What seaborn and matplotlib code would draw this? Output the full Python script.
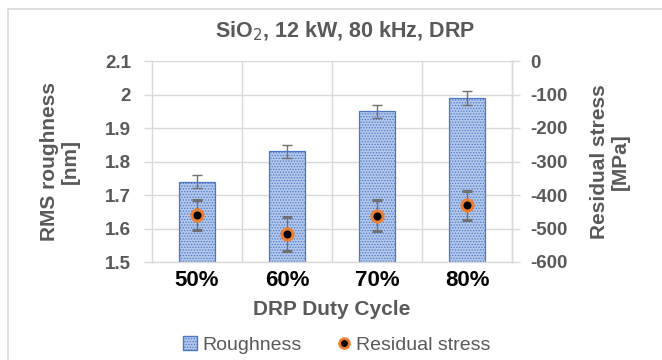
import matplotlib
matplotlib.use("Agg")
import matplotlib.pyplot as plt
from matplotlib.lines import Line2D
from matplotlib.patches import Patch
import seaborn as sns
import pandas as pd

# Data
duty_cycles = ["50%", "60%", "70%", "80%"]
roughness = [1.74, 1.83, 1.95, 1.99]
roughness_err = [0.02, 0.02, 0.02, 0.02]
residual_stress = [-460, -516, -462, -431]
residual_stress_err = [45, 50, 46, 43]
left_ticks = [1.5, 1.6, 1.7, 1.8, 1.9, 2.0, 2.1]
left_tick_labels = ["1.5", "1.6", "1.7", "1.8", "1.9", "2", "2.1"]
right_ticks = [-600, -500, -400, -300, -200, -100, 0]

df = pd.DataFrame({"duty": duty_cycles, "rough": roughness})

sns.set_theme(style="white")
plt.rcParams["font.family"] = ["Liberation Sans", "DejaVu Sans"]
plt.rcParams["hatch.color"] = "#86a3dc"
plt.rcParams["hatch.linewidth"] = 0.6

GRAY = "#595959"
GRID = "#d9d9d9"
BAR_FACE = "#b3c7ea"
BAR_EDGE = "#4a78c8"
ORANGE = "#ED7D31"
ERR = "#707070"

fig = plt.figure(figsize=(6.62, 3.60), dpi=100)
W, H = 662, 360
ax = fig.add_axes([152 / W, 1 - 262 / H, 360 / W, 201 / H])

sns.barplot(data=df, x="duty", y="rough", ax=ax, width=0.4,
            color=BAR_FACE, edgecolor=BAR_EDGE, linewidth=0.9, zorder=2)
for p in ax.patches:
    p.set_hatch("......")
    p.set_facecolor(BAR_FACE)

xs = list(range(len(duty_cycles)))
ax.errorbar(xs, roughness, yerr=roughness_err, fmt="none", ecolor=ERR,
            elinewidth=1.0, capsize=3.5, capthick=1.0, zorder=3)

ax.set_ylim(1.5, 2.1)
ax.set_xlim(-0.5, 3.5)
ax.set_yticks(left_ticks)
ax.set_yticklabels(left_tick_labels)
ax.set_xticks(xs)
ax.set_xticklabels(duty_cycles)
ax.set_xticks([0.5, 1.5, 2.5], minor=True)
ax.grid(True, axis="y", color=GRID, linewidth=1.0, zorder=0)
ax.grid(True, axis="x", which="minor", color=GRID, linewidth=1.0, zorder=0)
ax.grid(False, axis="x", which="major")
ax.set_axisbelow(True)
ax.spines["top"].set_visible(False)
for side in ["left", "right", "bottom"]:
    ax.spines[side].set_color(GRID)
    ax.spines[side].set_linewidth(1.0)
ax.tick_params(axis="y", which="major", length=6, color=GRID, width=1.0,
               labelsize=13.5, labelcolor=GRAY, pad=9)
ax.tick_params(axis="x", which="both", length=0, labelsize=16,
               labelcolor="black", pad=6)
for t in ax.get_yticklabels():
    t.set_fontweight("bold")
for t in ax.get_xticklabels():
    t.set_fontweight("bold")
ax.set_xlabel("DRP Duty Cycle", fontsize=15, fontweight="bold", color=GRAY,
              labelpad=6)
ax.set_ylabel("RMS roughness\n[nm]", fontsize=15, fontweight="bold",
              color=GRAY, linespacing=1.15)
ax.yaxis.set_label_coords(-0.20, 0.5)

ax2 = ax.twinx()
ax2.errorbar(xs, residual_stress, yerr=residual_stress_err, fmt="o",
             color="black", markerfacecolor="black", markeredgecolor=ORANGE,
             markersize=8, markeredgewidth=2.2, ecolor=ERR,
             elinewidth=1.0, capsize=3.5, capthick=1.0, zorder=4)
ax2.set_ylim(-600, 0)
ax2.set_yticks(right_ticks)
ax2.set_yticklabels([str(v) for v in right_ticks])
for side in ["top", "left", "bottom"]:
    ax2.spines[side].set_visible(False)
ax2.spines["right"].set_color(GRID)
ax2.spines["right"].set_linewidth(1.0)
ax2.tick_params(axis="y", length=6, color=GRID, width=1.0, labelsize=13.5,
                labelcolor=GRAY, pad=7)
for t in ax2.get_yticklabels():
    t.set_fontweight("bold")
ax2.set_ylabel("Residual stress\n[MPa]", fontsize=15, fontweight="bold",
               color=GRAY, linespacing=1.15)
ax2.yaxis.set_label_coords(1.217, 0.5)
ax2.grid(False)

fig.text(345 / W, 1 - 31 / H, "SiO$_2$, 12 kW, 80 kHz, DRP", ha="center",
         va="center", fontsize=15.5, fontweight="bold", color=GRAY)

handles = [
    Patch(facecolor=BAR_FACE, edgecolor=BAR_EDGE, hatch="......",
          label="Roughness"),
    Line2D([], [], marker="o", linestyle="none", markerfacecolor="black",
           markeredgecolor=ORANGE, markersize=7, markeredgewidth=2,
           label="Residual stress"),
]
leg = fig.legend(handles=handles, loc="center", bbox_to_anchor=(337 / W, 1 - 345 / H),
                 ncol=2, frameon=False, fontsize=14, handlelength=0.7,
                 handleheight=0.7, handletextpad=0.3, columnspacing=1.8)
for t in leg.get_texts():
    t.set_color(GRAY)

# Chart-area frame lines
fig.add_artist(Line2D([8 / W, 8 / W], [0, 1 - 9 / H], transform=fig.transFigure,
                      color=GRID, linewidth=1.2))
fig.add_artist(Line2D([8 / W, 1], [1 - 9 / H, 1 - 9 / H], transform=fig.transFigure,
                      color=GRID, linewidth=1.2))

fig.savefig("out.png", dpi=100)
